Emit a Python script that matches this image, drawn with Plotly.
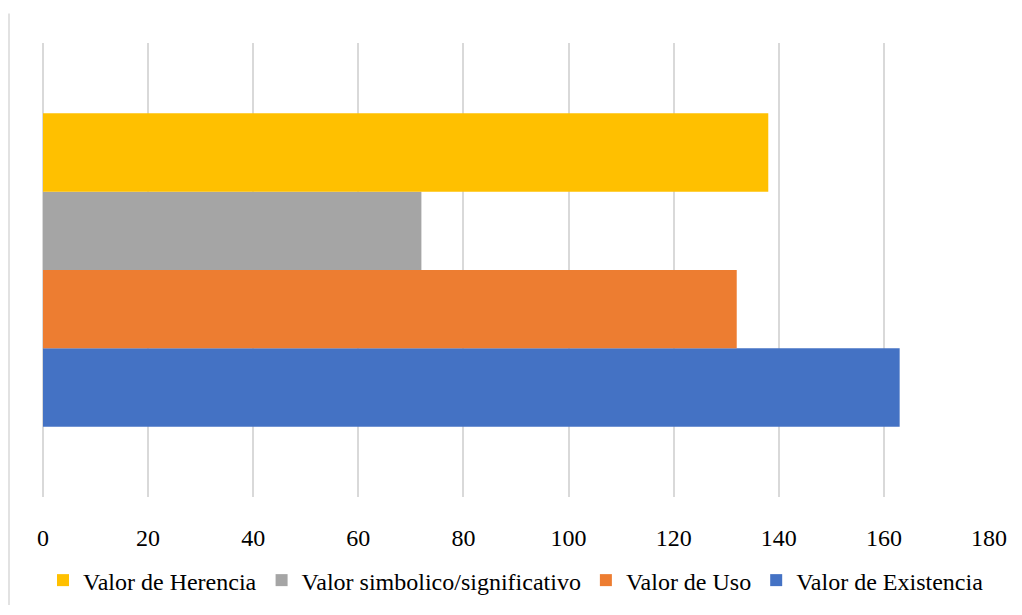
import plotly.graph_objects as go

category = [""]
series_names = ["Valor de Existencia", "Valor de Uso", "Valor simbolico/significativo", "Valor de Herencia"]
series_values = [[163], [132], [72], [138]]
series_colors = ["#4472C4", "#ED7D31", "#A5A5A5", "#FFC000"]
x_ticks = [0, 20, 40, 60, 80, 100, 120, 140, 160, 180]

fig = go.Figure()
for name, vals, col in zip(series_names, series_values, series_colors):
    fig.add_trace(go.Bar(y=category, x=vals, name=name, orientation="h",
                         marker=dict(color=col, line=dict(width=0))))

OFF = 8  # page body margin
W, H = 1022 - OFF, 615 - OFF
l, t = 43 - OFF, 43 - OFF
r = W - (989 - OFF)
b = H - (505 - OFF)
ph = H - t - b
pw = W - l - r

FONT = "Liberation Serif"

fig.update_layout(
    width=W, height=H,
    margin=dict(l=l, r=r, t=t, b=b),
    paper_bgcolor="white", plot_bgcolor="white",
    barmode="group", bargap=0.31, bargroupgap=0,
    font=dict(family=FONT, size=24, color="#000000"),
    xaxis=dict(range=[0, 180], tickvals=x_ticks, showgrid=True, gridcolor="#d9d9d9",
               gridwidth=1.5, zeroline=True, zerolinecolor="#d9d9d9", zerolinewidth=1.5,
               showline=False, ticks="", ticklabelstandoff=24,
               tickfont=dict(family=FONT, size=24)),
    yaxis=dict(showticklabels=False, showgrid=False, zeroline=False, showline=False),
    legend=dict(orientation="h", traceorder="reversed", x=0.5, xanchor="center",
                y=(t + ph - (590 - OFF)) / ph, yanchor="middle",
                font=dict(family=FONT, size=24),
                itemwidth=30, tracegroupgap=0),
    showlegend=True,
)
fig.add_shape(type="line", xref="paper", yref="paper",
              x0=(1 - l) / pw, x1=(1 - l) / pw,
              y0=(t + ph - H) / ph, y1=(t + ph - (13 - OFF)) / ph,
              line=dict(color="#d9d9d9", width=1.5))
fig.write_html("out.html")
